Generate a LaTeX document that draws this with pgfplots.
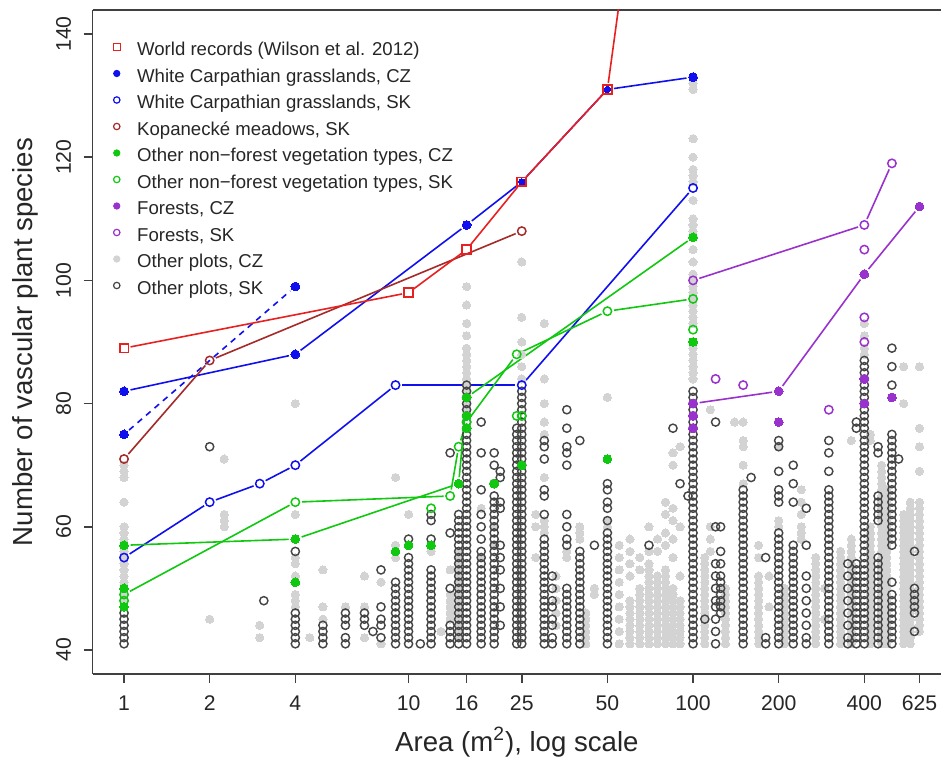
\documentclass[border=0pt]{standalone}
\usepackage{fontspec}
\setmainfont{Liberation Sans}
\usepackage{pgfplots}
\pgfplotsset{compat=1.18}
\definecolor{wrred}{HTML}{E82020}
\definecolor{wcblue}{HTML}{1010EE}
\definecolor{kbrown}{HTML}{A52A2A}
\definecolor{ogreen}{HTML}{10C810}
\definecolor{fpurple}{HTML}{9932CC}
\definecolor{ltgray}{HTML}{D3D3D3}
\definecolor{dkgray}{HTML}{454545}
\pgfplotsset{
  lg/.style={forget plot, only marks, mark=*, mark size=2.05pt, mark options={draw=ltgray, fill=ltgray, line width=0pt}},
  dk/.style={forget plot, only marks, mark=o, mark size=2.05pt, mark options={draw=dkgray, line width=0.72pt}},
  seg/.style={forget plot, no marks, line width=0.8pt, shorten >=3.3pt, shorten <=3.3pt},
  fillmk/.style={forget plot, only marks, mark=*, mark size=2.2pt, mark options={draw=#1, fill=#1, line width=0pt}},
  openmk/.style={forget plot, only marks, mark=o, mark size=2.1pt, mark options={draw=#1, line width=0.75pt}},
}
\begin{document}
\begin{tikzpicture}
\begin{axis}[
  scale only axis, width=424.15pt, height=332pt,
  xmode=log, xmin=0.776, xmax=744, ymin=36.1, ymax=143.9,
  axis x line=box, axis y line=left,
  axis line style={-, draw=black!75, line width=0.75pt},
  xtick pos=left, ytick pos=left,
  tick align=outside, major tick length=4.6pt,
  tick style={draw=black!75, line width=0.75pt},
  xtick={1,2,4,10,16,25,50,100,200,400,625},
  xticklabels={1,2,4,10,16,25,50,100,200,400,625},
  ytick={40,60,80,100,120,140},
  yticklabels={40,60,80,100,120,140},
  xminorticks=false, yminorticks=false,
  /pgf/number format/assume math mode=true,
  xticklabel style={font=\fontsize{10.6}{12}\selectfont, inner sep=0pt, text=black!85, anchor=north},
  yticklabel style={font=\fontsize{10.6}{12}\selectfont, inner sep=0pt, text=black!85, rotate=90, anchor=south},
  xticklabel shift=6pt, yticklabel shift=6pt,
  xlabel={Area (m\textsuperscript{2}), log scale},
  ylabel={Number of vascular plant species},
  every axis x label/.style={at={(axis description cs:0.5,-0.1024)}, anchor=center, font=\fontsize{13.8}{16}\selectfont, text=black!85},
  every axis y label/.style={at={(axis description cs:-0.0798,0.5)}, rotate=90, anchor=center, font=\fontsize{13.8}{16}\selectfont, text=black!85},
  legend image code/.code={\draw[#1] plot coordinates {(0pt,1.8pt)};},
  legend cell align=left,
  legend style={draw=none, fill=none, at={(axis description cs:0.0239,0.953)}, anchor=north west,
    inner sep=0pt, font=\fontsize{9.3}{11}\selectfont, row sep=4.25pt, column sep=8.5pt,
    nodes={inner xsep=0pt, inner ysep=0pt, text height=7pt, text depth=2pt, text=black!85}},
]
% ---------- Other plots, CZ (light grey filled) ----------
\addplot[lg] coordinates {
(1,48)(1,49)(1,50)(1,51)(1,52)(1,53)(1,54)(1,55)(1,56)(1,57)(1,58)(1,59)(1,60)(1,64)(1,68)(1,69)(1,70)
(2,45)(2.25,60)(2.25,61)(2.25,62)(2.25,71)(3,42)(3,44)
(4,47)(4,48)(4,49)(4,52)(4,54)(4,55)(4,62)(4,80)(4.5,42)
(5,45)(5,47)(5,53)(6,47)(7,42)(7,47)(7,52)(8,41)(8,51)
(9,55)(9,57)(9,68)(10,62)(12,56)(12,57)(13,43)
(14,45)(14,46)(14,47)(14,48)(14,49)(14,53)
(15,42)(15,43)(15,44)(15,45)(15,46)(15,47)(15,48)(15,49)(15,50)(15,51)(15,52)(15,53)(15,54)(15,55)(15,56)
(16,79)(16,80)(16,81)(16,82)(16,83)(16,84)(16,85)(16,86)(16,87)(16,88)(16,89)(16,91)(16,93)(16,96)(16,99)
(18,55)(18,63)(20,57)(20,60)
(25,84)(25,86)(25,88)(25,90)(25,94)(25,103)
(28,55)(28,60)(28,62)
(30,59)(30,60)(30,61)(30,68)(30,75)(30,77)(30,80)(30,84)(30,93)
(33,44)(33,46)(33,48)(33,50)(33,52)
(36,55)(36,56)(40,58)(40,59)(40,60)
(42,41)(42,42)(42,43)(42,44)(42,45)(42,46)
(45,49)(45,50)(50,60)(50,61)(50,81)
(55,41)(55,43)(55,45)(55,47)(55,49)(55,51)(55,53)(55,55)(55,57)
(60,41)(60,42)(60,43)(60,44)(60,45)(60,46)(60,47)(60,48)(60,52)(60,54)(60,56)(60,58)
(65,41)(65,42)(65,43)(65,44)(65,45)(65,46)(65,47)(65,48)(65,49)(65,50)(65,53)(65,55)
(70,41)(70,42)(70,43)(70,44)(70,45)(70,46)(70,47)(70,48)(70,49)(70,50)(70,51)(70,52)(70,53)(70,54)(70,56)(70,60)
(75,41)(75,42)(75,43)(75,44)(75,45)(75,46)(75,47)(75,48)(75,49)(75,50)(75,51)(75,52)(75,56)(75,58)
(80,41)(80,42)(80,43)(80,44)(80,45)(80,46)(80,47)(80,48)(80,49)(80,50)(80,51)(80,52)(80,53)(80,57)(80,59)(80,62)(80,64)
(85,41)(85,42)(85,43)(85,44)(85,45)(85,46)(85,47)(85,48)(85,49)(85,50)(85,55)(85,58)(85,61)(85,63)(85,70)(85,72)
(90,41)(90,42)(90,43)(90,44)(90,45)(90,46)(90,47)(90,48)(90,52)(90,60)(90,73)
(100,84)(100,85)(100,86)(100,87)(100,88)(100,89)(100,90)(100,93)(100,94)(100,95)(100,96)(100,97)(100,98)(100,99)(100,100)(100,101)(100,103)(100,105)(100,108)(100,109)(100,110)(100,113)(100,116)(100,117)(100,118)(100,120)(100,123)(100,131)(100,132)
(110,41)(110,42)(110,43)(110,44)(110,45)(110,46)(110,47)(110,48)(110,49)(110,50)(110,51)(110,52)(110,53)(110,54)(110,55)
(115,56)(115,58)(115,60)(115,79)
(130,41)(130,42)(130,43)(130,44)(130,45)(130,46)(130,47)(130,48)(130,49)(130,50)
(140,77)(150,67)(150,70)(150,73)(150,74)(150,77)
(170,41)(170,42)(170,43)(170,44)(170,45)(170,46)(170,47)(170,48)(170,49)(170,50)(170,51)(170,52)(170,55)(170,57)
(185,47)(185,52)(200,60)(200,61)(200,73)
(210,41)(210,42)(210,43)(210,44)(210,45)(210,46)(210,47)(210,48)(210,49)(210,50)
(240,58)(240,59)(240,60)(240,62)(240,64)(240,66)
(270,41)(270,42)(270,43)(270,44)(270,45)(270,46)(270,47)(270,48)(270,49)(270,50)(270,51)(270,52)(270,53)(270,54)(270,55)
(290,45)(290,50)
(330,41)(330,42)(330,43)(330,44)(330,45)(330,46)(330,47)(330,48)(330,49)(330,50)(330,51)(330,52)(330,53)(330,54)(330,55)(330,56)
(360,41)(360,42)(360,43)(360,44)(360,45)(360,46)(360,47)(360,48)(360,49)(360,50)(360,51)(360,52)(360,53)(360,54)(360,55)(360,56)(360,57)(360,58)(360,74)
(400,88)(400,89)(400,91)(400,93)
(420,41)(420,42)(420,43)(420,44)(420,45)(420,46)(420,47)(420,48)(420,49)(420,50)(420,51)(420,52)(420,53)(420,54)(420,55)(420,56)(420,57)(420,58)(420,59)(420,60)(420,74)(420,75)
(460,41)(460,42)(460,43)(460,44)(460,45)(460,46)(460,47)(460,48)(460,49)(460,50)(460,51)(460,52)(460,53)(460,54)(460,55)(460,56)(460,57)(460,58)(460,59)(460,60)(460,61)(460,62)(460,63)(460,64)(460,65)(460,66)(460,67)(460,68)(460,69)(460,70)
(480,41)(480,42)(480,43)(480,44)(480,45)(480,46)(480,47)(480,48)(480,49)(480,50)(480,51)(480,52)(480,53)(480,54)(480,55)(480,56)(480,57)(480,58)(480,59)(480,60)(480,61)(480,62)(480,63)(480,64)(480,65)(480,66)
(550,41)(550,42)(550,43)(550,44)(550,45)(550,46)(550,47)(550,48)(550,49)(550,50)(550,51)(550,52)(550,53)(550,54)(550,55)(550,56)(550,57)(550,58)(550,59)(550,60)(550,61)(550,62)(550,80)(550,86)
(580,41)(580,42)(580,43)(580,44)(580,45)(580,46)(580,47)(580,48)(580,49)(580,50)(580,51)(580,52)(580,53)(580,54)(580,55)(580,56)(580,57)(580,58)(580,59)(580,60)(580,61)(580,62)(580,63)(580,64)
(625,43)(625,44)(625,45)(625,46)(625,47)(625,48)(625,49)(625,50)(625,51)(625,52)(625,53)(625,54)(625,55)(625,56)(625,57)(625,58)(625,59)(625,60)(625,61)(625,62)(625,63)(625,64)(625,69)(625,73)(625,76)(625,86)
};
% ---------- Other plots, SK (dark grey open) ----------
\addplot[dk] coordinates {
(1,41)(1,42)(1,43)(1,44)(1,45)(1,46)(2,73)(3.1,48)
(4,41)(4,42)(4,43)(4,44)(4,45)(4,46)(4,56)
(5,41)(5,42)(5,43)(5,44)(6,41)(6,42)(6,44)(6,45)(6,46)
(7,44)(7,45)(7,46)(7.5,43)(8,42)(8,44)(8,45)(8,47)(8,53)
(9,41)(9,42)(9,43)(9,44)(9,45)(9,46)(9,47)(9,48)(9,49)(9,50)(9,51)
(10,41)(10,42)(10,43)(10,44)(10,45)(10,46)(10,47)(10,48)(10,49)(10,50)(10,51)(10,52)(10,53)(10,54)(10,55)(10,58)
(11,41)
(12,41)(12,42)(12,43)(12,44)(12,45)(12,46)(12,47)(12,48)(12,49)(12,50)(12,51)(12,52)(12,53)(12,58)(12,61)(12,62)
(14,41)(14,42)(14,43)(14,44)(14,50)(14,59)(14,72)
(15,41)(15,42)(15,43)(15,44)(15,45)(15,46)(15,47)(15,48)(15,49)(15,50)(15,51)(15,52)(15,53)(15,54)(15,55)(15,56)(15,57)(15,58)(15,59)(15,60)(15,61)(15,62)
(16,41)(16,42)(16,43)(16,44)(16,45)(16,46)(16,47)(16,48)(16,49)(16,50)(16,51)(16,52)(16,53)(16,54)(16,55)(16,56)(16,57)(16,58)(16,59)(16,60)(16,61)(16,62)(16,63)(16,64)(16,65)(16,66)(16,67)(16,68)(16,69)(16,70)(16,71)(16,72)(16,73)(16,74)(16,75)(16,76)(16,77)(16,78)(16,79)(16,80)(16,81)(16,82)(16,83)
(18,41)(18,42)(18,43)(18,44)(18,45)(18,46)(18,47)(18,48)(18,49)(18,50)(18,51)(18,52)(18,53)(18,54)(18,55)(18,56)(18,58)(18,60)(18,62)(18,66)(18,72)(18,77)
(20,41)(20,42)(20,43)(20,44)(20,45)(20,46)(20,47)(20,48)(20,49)(20,50)(20,51)(20,52)(20,53)(20,54)(20,55)(20,56)(20,57)(20,58)(20,59)(20,60)(20,61)(20,62)(20,63)(20,64)(20,65)(20,67)(20,70)(20,72)
(21,44)(21,47)(21,50)(21,53)(21,55)(21,57)(21,63)(21,64)(21,68)(21,69)
(24,41)(24,42)(24,43)(24,44)(24,45)(24,46)(24,47)(24,48)(24,49)(24,50)(24,51)(24,52)(24,53)(24,54)(24,55)(24,56)(24,57)(24,58)(24,59)(24,60)(24,61)(24,62)(24,63)(24,64)(24,65)(24,66)(24,67)(24,68)(24,69)(24,70)(24,71)(24,72)(24,73)(24,74)(24,75)(24,76)
(25,41)(25,42)(25,43)(25,44)(25,45)(25,46)(25,47)(25,48)(25,49)(25,50)(25,51)(25,52)(25,53)(25,54)(25,55)(25,56)(25,57)(25,58)(25,59)(25,60)(25,61)(25,62)(25,63)(25,64)(25,65)(25,66)(25,67)(25,68)(25,69)(25,70)(25,71)(25,72)(25,73)(25,74)(25,75)(25,76)(25,77)(25,78)(25,79)(25,80)(25,81)(25,82)
(30,41)(30,42)(30,43)(30,44)(30,45)(30,46)(30,47)(30,48)(30,49)(30,50)(30,51)(30,52)(30,53)(30,54)(30,55)(30,56)(30,57)(30,58)(30,62)(30,65)(30,66)(30,71)(30,73)(30,74)
(32,41)(32,42)(32,44)(32,45)(32,47)(32,48)(32,50)(32,52)
(36,41)(36,42)(36,43)(36,44)(36,45)(36,46)(36,47)(36,48)(36,49)(36,50)(36,57)(36,58)(36,60)(36,62)(36,70)(36,72)(36,73)(36,76)(36,79)
(40,41)(40,42)(40,43)(40,44)(40,45)(40,46)(40,47)(40,48)(40,49)(40,50)(40,51)(40,52)(40,53)(40,54)(40,55)(40,56)(40,74)
(45,57)
(50,41)(50,42)(50,43)(50,44)(50,45)(50,46)(50,47)(50,48)(50,49)(50,50)(50,51)(50,52)(50,53)(50,54)(50,55)(50,56)(50,57)(50,58)(50,59)(50,61)(50,63)(50,64)(50,66)(50,67)
(70,57)(85,76)(90,67)(96,65)
(100,41)(100,42)(100,43)(100,44)(100,45)(100,46)(100,47)(100,48)(100,49)(100,50)(100,51)(100,52)(100,53)(100,54)(100,55)(100,56)(100,57)(100,58)(100,59)(100,60)(100,61)(100,62)(100,63)(100,64)(100,65)(100,66)(100,67)(100,68)(100,69)(100,70)(100,71)(100,72)(100,73)(100,74)(100,75)(100,76)(100,77)(100,78)(100,79)(100,80)(100,81)(100,82)
(110,45)
(120,41)(120,43)(120,45)(120,47)(120,48)(120,50)(120,52)(120,54)(120,60)(120,77)
(125,46)(125,47)(125,48)(125,49)(125,50)(125,51)(125,52)(125,54)(125,56)(125,60)
(150,41)(150,42)(150,43)(150,44)(150,45)(150,46)(150,47)(150,48)(150,49)(150,50)(150,51)(150,52)(150,53)(150,54)(150,55)(150,56)(150,57)(150,58)(150,59)(150,60)(150,61)(150,62)(150,63)(150,64)(150,65)(150,66)
(160,68)(180,41)(180,42)(180,55)
(200,41)(200,42)(200,43)(200,44)(200,45)(200,46)(200,47)(200,48)(200,49)(200,50)(200,51)(200,52)(200,53)(200,54)(200,55)(200,56)(200,57)(200,58)(200,59)(200,64)(200,65)(200,66)(200,69)(200,73)(200,74)
(225,41)(225,42)(225,43)(225,44)(225,45)(225,46)(225,47)(225,48)(225,49)(225,50)(225,51)(225,52)(225,53)(225,54)(225,55)(225,56)(225,57)(225,64)(225,67)(225,70)
(250,41)(250,42)(250,44)(250,46)(250,48)(250,50)(250,52)(250,57)(250,63)
(300,41)(300,42)(300,43)(300,44)(300,45)(300,46)(300,47)(300,48)(300,49)(300,50)(300,51)(300,52)(300,53)(300,54)(300,55)(300,56)(300,57)(300,58)(300,59)(300,60)(300,61)(300,62)(300,63)(300,64)(300,65)(300,66)(300,69)(300,72)(300,74)
(350,41)(350,42)(350,44)(350,46)(350,48)(350,50)(350,52)(350,54)
(375,41)(375,42)(375,43)(375,44)(375,45)(375,46)(375,47)(375,48)(375,49)(375,50)(375,51)(375,52)(375,53)(375,54)(375,76)(375,77)
(400,41)(400,42)(400,43)(400,44)(400,45)(400,46)(400,47)(400,48)(400,49)(400,50)(400,51)(400,52)(400,53)(400,54)(400,55)(400,56)(400,57)(400,58)(400,59)(400,60)(400,61)(400,62)(400,63)(400,64)(400,65)(400,66)(400,67)(400,68)(400,69)(400,70)(400,71)(400,72)(400,73)(400,74)(400,75)(400,76)(400,77)(400,78)(400,79)(400,80)(400,81)(400,82)(400,83)(400,84)(400,85)(400,86)(400,87)
(447,41)(447,42)(447,43)(447,44)(447,45)(447,46)(447,47)(447,48)(447,49)(447,50)(447,51)(447,52)(447,53)(447,54)(447,55)(447,61)(447,62)(447,63)(447,64)(447,65)(447,72)(447,73)
(500,41)(500,42)(500,43)(500,44)(500,45)(500,46)(500,47)(500,48)(500,49)(500,51)(500,57)(500,58)(500,59)(500,60)(500,61)(500,62)(500,63)(500,64)(500,65)(500,66)(500,67)(500,68)(500,69)(500,70)(500,71)(500,72)(500,73)(500,74)(500,75)(500,83)(500,86)(500,89)
(528,71)
(600,43)(600,46)(600,47)(600,48)(600,49)(600,50)(600,56)
};
% ---------- line segments (type "b": gaps round the points) ----------
% White Carpathian grasslands, CZ
\addplot[seg, wcblue] coordinates {(1,82)(4,88)};
\addplot[seg, wcblue] coordinates {(4,88)(16,109)};
\addplot[seg, wcblue] coordinates {(16,109)(25,116)};
\addplot[seg, wcblue] coordinates {(25,116)(50,131)};
\addplot[seg, wcblue] coordinates {(50,131)(100,133)};
\addplot[seg, wcblue, dash pattern=on 3pt off 2.6pt] coordinates {(1,75)(4,99)};
% White Carpathian grasslands, SK
\addplot[seg, wcblue] coordinates {(1,55)(2,64)};
\addplot[seg, wcblue] coordinates {(2,64)(3,67)};
\addplot[seg, wcblue] coordinates {(3,67)(4,70)};
\addplot[seg, wcblue] coordinates {(4,70)(9,83)};
\addplot[seg, wcblue] coordinates {(9,83)(25,83)};
\addplot[seg, wcblue] coordinates {(25,83)(100,115)};
% Kopanecke meadows
\addplot[seg, kbrown] coordinates {(1,71)(2,87)};
\addplot[seg, kbrown] coordinates {(2,87)(25,108)};
% World records
\addplot[seg, wrred] coordinates {(1,89)(10,98)};
\addplot[seg, wrred] coordinates {(10,98)(16,105)};
\addplot[seg, wrred] coordinates {(16,105)(25,116)};
\addplot[seg, wrred] coordinates {(25,116)(50,131)};
\addplot[seg, wrred] coordinates {(50,131)(100,233)};
% Other non-forest, CZ
\addplot[seg, ogreen] coordinates {(1,57)(4,58)};
\addplot[seg, ogreen] coordinates {(4,58)(15,67)};
\addplot[seg, ogreen] coordinates {(15,67)(16,81)};
\addplot[seg, ogreen] coordinates {(16,81)(100,107)};
% Other non-forest, SK
\addplot[seg, ogreen] coordinates {(1,49)(4,64)};
\addplot[seg, ogreen] coordinates {(4,64)(14,65)};
\addplot[seg, ogreen] coordinates {(14,65)(15,73)};
\addplot[seg, ogreen] coordinates {(15,73)(16,77)};
\addplot[seg, ogreen] coordinates {(16,77)(24,88)};
\addplot[seg, ogreen] coordinates {(24,88)(50,95)};
\addplot[seg, ogreen] coordinates {(50,95)(100,97)};
% Forests
\addplot[seg, fpurple] coordinates {(100,80)(200,82)};
\addplot[seg, fpurple] coordinates {(200,82)(400,101)};
\addplot[seg, fpurple] coordinates {(400,101)(625,112)};
\addplot[seg, fpurple] coordinates {(100,100)(400,109)};
\addplot[seg, fpurple] coordinates {(400,109)(500,119)};
% ---------- coloured points ----------
\addplot[fillmk=ogreen] coordinates {(1,57)(1,50)(1,47)(4,58)(4,51)(9,56)(10,57)(12,57)(15,67)(16,81)(16,78)(16,76)(20,67)(25,70)(50,71)(100,107)(100,90)};
\addplot[openmk=ogreen] coordinates {(1,49)(1,48)(4,64)(12,63)(14,65)(15,73)(16,77)(24,88)(24,78)(25,78)(50,95)(100,97)(100,92)};
\addplot[fillmk=fpurple] coordinates {(100,80)(100,78)(100,76)(200,82)(200,77)(400,101)(400,80)(400,84)(500,81)(625,112)};
\addplot[openmk=fpurple] coordinates {(100,100)(120,84)(150,83)(300,79)(400,109)(400,105)(400,94)(400,90)(500,119)};
\addplot[openmk=kbrown] coordinates {(1,71)(2,87)(25,108)};
\addplot[openmk=wcblue] coordinates {(1,55)(2,64)(3,67)(4,70)(9,83)(25,83)(100,115)};
\addplot[fillmk=wcblue] coordinates {(1,82)(1,75)(4,88)(4,99)(16,109)(100,133)};
\addplot[forget plot, only marks, mark=*, mark size=1.6pt, mark options={draw=wcblue, fill=wcblue, line width=0pt}] coordinates {(25,116)(50,131)};
\addplot[forget plot, only marks, mark=square, mark size=2.2pt, mark options={draw=wrred, line width=0.9pt}] coordinates {(1,89)(10,98)(16,105)(25,116)(50,131)};
% ---------- legend ----------
\addlegendimage{only marks, mark=square, mark size=1.7pt, mark options={draw=wrred, line width=0.6pt}}
\addlegendentry{World records (Wilson et al. 2012)}
\addlegendimage{only marks, mark=*, mark size=1.6pt, mark options={draw=wcblue, fill=wcblue}}
\addlegendentry{White Carpathian grasslands, CZ}
\addlegendimage{only marks, mark=o, mark size=1.6pt, mark options={draw=wcblue, line width=0.6pt}}
\addlegendentry{White Carpathian grasslands, SK}
\addlegendimage{only marks, mark=o, mark size=1.6pt, mark options={draw=kbrown, line width=0.6pt}}
\addlegendentry{Kopanecké meadows, SK}
\addlegendimage{only marks, mark=*, mark size=1.6pt, mark options={draw=ogreen, fill=ogreen}}
\addlegendentry{Other non−forest vegetation types, CZ}
\addlegendimage{only marks, mark=o, mark size=1.6pt, mark options={draw=ogreen, line width=0.6pt}}
\addlegendentry{Other non−forest vegetation types, SK}
\addlegendimage{only marks, mark=*, mark size=1.6pt, mark options={draw=fpurple, fill=fpurple}}
\addlegendentry{Forests, CZ}
\addlegendimage{only marks, mark=o, mark size=1.6pt, mark options={draw=fpurple, line width=0.6pt}}
\addlegendentry{Forests, SK}
\addlegendimage{only marks, mark=*, mark size=1.6pt, mark options={draw=ltgray, fill=ltgray}}
\addlegendentry{Other plots, CZ}
\addlegendimage{only marks, mark=o, mark size=1.6pt, mark options={draw=dkgray, line width=0.6pt}}
\addlegendentry{Other plots, SK}
\end{axis}
\pgfresetboundingbox
\path[use as bounding box] ([xshift=-46.35pt,yshift=-42pt]current axis.south west) rectangle ([yshift=5pt]current axis.north east);
\end{tikzpicture}
\end{document}
